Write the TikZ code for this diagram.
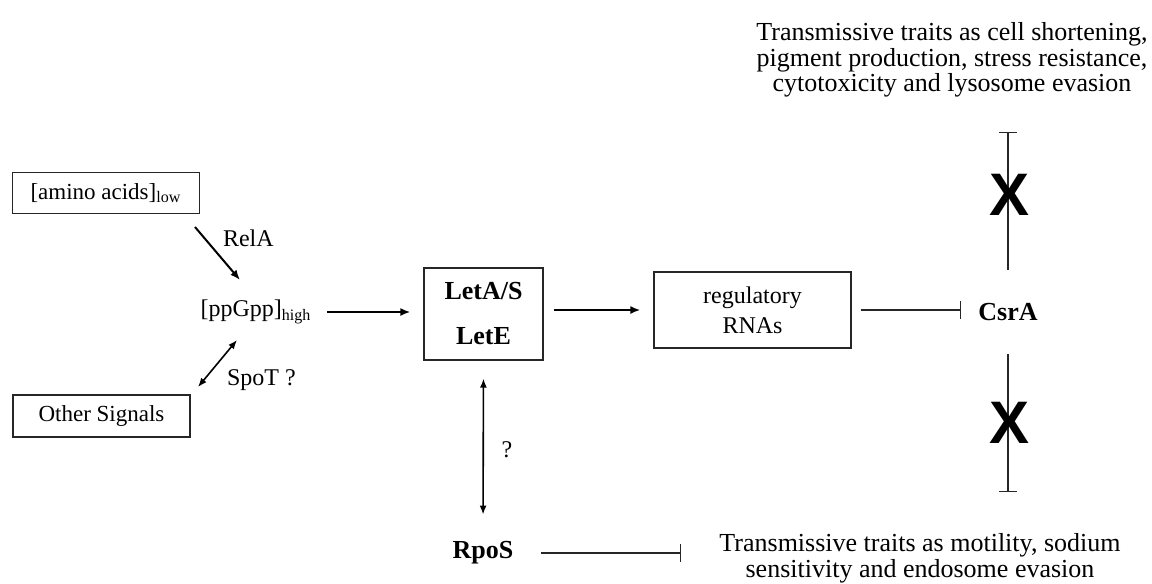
\documentclass[tikz,border=0pt]{standalone}
\usepackage{fontspec}
\setmainfont{Liberation Serif}
\newfontfamily\crossfont{Liberation Sans}
\usetikzlibrary{arrows.meta}

\begin{document}
\begin{tikzpicture}
  [x=0.5pt,y=-0.5pt,every node/.style={font=\fontsize{12}{12.5}\selectfont},
   box/.style={draw=black!85,line width=0.6pt,font=\fontsize{11.5}{12}\selectfont},
   bold/.style={font=\fontsize{13}{22.5}\selectfont\bfseries},
   trait/.style={align=center,font=\fontsize{13}{12.75}\selectfont},
   act/.style={line width=1pt,-{Latex[length=5pt,width=4pt]}},
   both/.style={line width=0.8pt,{Latex[length=4.5pt,width=3.5pt]}-{Latex[length=4.5pt,width=3.5pt]}},
   inh/.style={line width=0.6pt,draw=black!85,-{Bar[width=9pt]}},
   cross/.style={font=\crossfont\bfseries\fontsize{30}{30}\selectfont,inner sep=0pt}]
  \useasboundingbox (0,0) rectangle (1152,584);
  \node[box,minimum width=93.5pt,minimum height=20.5pt] (amino) at (106,193) {[amino acids]\textsubscript{low}};
  \node[box,minimum width=88.5pt,minimum height=21pt] (other) at (101.5,416) {Other Signals};
  \node[inner sep=0pt] (ppgpp) at (256,312) {[ppGpp]\textsubscript{high}};
  \node[box,bold,align=center,minimum width=59.5pt,minimum height=46pt] (let) at (483.5,314) {LetA/S\\LetE};
  \node[box,align=center,minimum width=98.5pt,minimum height=38pt,font=\fontsize{12}{15}\selectfont] (rna) at (752.5,310) {regulatory\\RNAs};
  \node[bold] (csra) at (1008,312) {CsrA};
  \node[bold] (rpos) at (483,553) {RpoS};
  \node[trait] (upper) at (952,60) {Transmissive traits as cell shortening,\\pigment production, stress resistance,\\cytotoxicity and lysosome evasion};
  \node[trait,font=\fontsize{13}{11.75}\selectfont] (lower) at (920,558) {Transmissive traits as motility, sodium\\sensitivity and endosome evasion};
  \node[anchor=west] (rela) at (216,238) {RelA};
  \node[anchor=west] (spot) at (220,380) {SpoT ?};
  \node (query) at (507,450) {?};
  \coordinate (relaA) at (195,227);
  \coordinate (relaB) at (240,280);
  \coordinate (spotA) at (198,387);
  \coordinate (spotB) at (237,340);
  \coordinate (topend) at (1008,132);
  \coordinate (botend) at (1008,492);
  \draw[act] (relaA) -- (relaB);
  \draw[both] (spotA) -- (spotB);
  \draw[act,shorten <=7.5pt,shorten >=6.5pt] (ppgpp.east) -- (ppgpp.east -| let.west);
  \draw[act,shorten <=5pt,shorten >=6.5pt] (let.east |- rna.west) -- (rna.west);
  \draw[inh,shorten <=4.5pt,shorten >=5pt] (rna.east) -- (rna.east -| csra.west);
  \draw[inh,shorten <=13pt] (csra.north) -- (topend);
  \draw[inh,shorten <=13pt] (csra.south) -- (botend);
  \draw[both,shorten <=9pt,shorten >=10pt] (let.south) -- (rpos.north);
  \draw[inh,shorten <=10.5pt,shorten >=15.5pt] (rpos.east) -- (rpos.east -| lower.west);
  \foreach \name/\y in {xup/195,xdown/423}
    \node[cross] (\name) at (1010,\y) {X};
\end{tikzpicture}
\end{document}
